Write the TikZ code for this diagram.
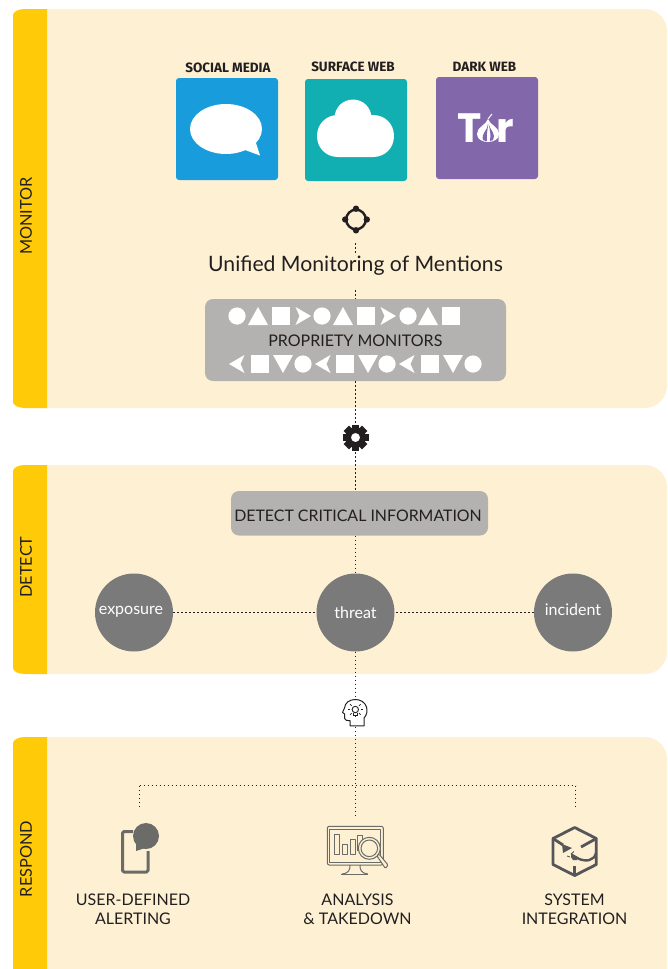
\documentclass[tikz,border=0pt]{standalone}
\usepackage{fontspec}
\setmainfont{Lato}
\newfontfamily\logofont{Poppins}
\newfontfamily\titlefont{Fira Sans}
\definecolor{cream}{HTML}{FEF1D3}
\definecolor{band}{HTML}{FFCB08}
\definecolor{ink}{HTML}{231F20}
\definecolor{boxgray}{HTML}{B3B2B0}
\definecolor{discgray}{HTML}{7A7A7A}
\definecolor{icongray}{HTML}{6B6B68}
\definecolor{cubegray}{HTML}{55555A}
\definecolor{tblue}{HTML}{189CDB}
\definecolor{tteal}{HTML}{11AFB1}
\definecolor{tpurple}{HTML}{8367AB}
\tikzset{
  x=1pt,y=-1pt,
  link/.style={draw=ink,line width=1.5pt,dash pattern=on 1.6pt off 2.4pt},
  sidelabel/.style={rotate=90,text=ink,font=\fontsize{16.3}{18}\selectfont,inner sep=0pt},
  tile/.style={rounded corners=3pt},
  tiletitle/.style={text=ink,font=\titlefont\fontsize{13.5}{14}\selectfont\bfseries,inner sep=0pt},
  graybox/.style={fill=boxgray,rounded corners=8pt},
  disc/.style={circle,fill=discgray,minimum size=78pt,inner sep=0pt},
  disctext/.style={text=white,inner sep=0pt,font=\fontsize{16}{18}\selectfont},
  caption/.style={align=center,text=ink,font=\fontsize{16}{19}\selectfont,inner sep=0pt},
  iconspot/.style={circle,minimum size=#1,inner sep=0pt},
  glyphfill/.style={fill=white,draw=none},
}
\begin{document}
\begin{tikzpicture}
\useasboundingbox (0,0) rectangle (667,969);
\fill[white] (0,0) rectangle (667,969);

% Panels
\fill[cream] (40,9) -- (645,9) .. controls (657,9) and (667,19) .. (667,31) -- (667,386) .. controls (667,398) and (657,408) .. (645,408) -- (40,408) -- cycle;
\fill[band] (47,9) -- (25,9) .. controls (18,9) and (13,12) .. (13,15) -- (13,402) .. controls (13,405) and (18,408) .. (25,408) -- (47,408) -- cycle;

\fill[cream] (40,465) -- (645,465) .. controls (657,465) and (667,475) .. (667,487) -- (667,652) .. controls (667,664) and (657,674) .. (645,674) -- (40,674) -- cycle;
\fill[band] (47,465) -- (25,465) .. controls (18,465) and (13,468) .. (13,471) -- (13,668) .. controls (13,671) and (18,674) .. (25,674) -- (47,674) -- cycle;

\fill[cream] (40,737) -- (645,737) .. controls (657,737) and (667,747) .. (667,759) -- (667,969) -- (40,969) -- cycle;
\fill[band] (47,737) -- (25,737) .. controls (18,737) and (13,740) .. (13,743) -- (13,969) -- (47,969) -- cycle;

\node[sidelabel] (lmon) at (26,216) {MONITOR};
\node[sidelabel] (ldet) at (26,567) {DETECT};
\node[sidelabel] (lres) at (26,859) {RESPOND};

% Source tiles
\fill[tile,tblue] (176,78) rectangle (278,180);
\fill[tile,tteal] (305,79) rectangle (407,181);
\fill[tile,tpurple] (436,77) rectangle (538,179);
\node[tiletitle] (t1) at (228,68) {SOCIAL MEDIA};
\node[tiletitle] (t2) at (353,67) {SURFACE WEB};
\node[tiletitle] (t3) at (484.5,66.5) {DARK WEB};

% Speech bubble
\fill[white] (226,129) ellipse[x radius=36,y radius=25];
\fill[white] (245,150) -- (260,155.5) -- (255,140) -- cycle;
% Cloud
\fill[white] (338,157) .. controls (326,157) and (317,148) .. (317,136) .. controls (317,124) and (326,115) .. (338,115) -- (373,115) .. controls (385,115) and (394,124) .. (394,136) .. controls (394,148) and (385,157) .. (373,157) -- cycle;
\fill[white] (353,118) circle[radius=18.5];
% Tor logo
\node[text=white,font=\logofont\fontsize{41}{41}\selectfont\bfseries,inner sep=0pt,anchor=base] (torT) at (470,142) {T};
\node[text=white,font=\logofont\fontsize{41}{41}\selectfont\bfseries,inner sep=0pt,anchor=base] (torR) at (505,142) {r};
\fill[white] (488,119) .. controls (490,125) and (499,127) .. (499,134) .. controls (499,139) and (494,142) .. (488,142) .. controls (482,142) and (477,139) .. (477,134) .. controls (477,127) and (486,125) .. (488,119) -- cycle;
\fill[tpurple] (488,124) .. controls (488,130) and (481,133) .. (483,140) .. controls (485,141) and (486,141) .. (487,141) .. controls (486,134) and (488,130) .. (488,124) -- cycle;
\fill[tpurple] (488.5,124) .. controls (490,130) and (496,133) .. (493,140) .. controls (492,141) and (491,141) .. (490,141) .. controls (491,134) and (490,130) .. (488.5,124) -- cycle;
\draw[white,line width=1pt] (488,119) -- (492,114);

% Target icon
\node[iconspot=28pt] (target) at (356,219.5) {};
\draw[ink,line width=2.4pt] (356,219.5) circle[radius=9.8];
\foreach \dx/\dy in {0/-10.8,0/10.8,-10.8/0,10.8/0}{
  \fill[ink] (356+\dx,219.5+\dy) circle[radius=3.2];
}

% Headline
\node[text=ink,font=\fontsize{21.2}{24}\selectfont,inner sep=0pt] (headline) at (355.5,265.5) {Unified Monitoring of Mentions};
\coordinate (hlTop) at (355.5,255);
\coordinate (hlBot) at (355.5,290);
\coordinate (tgtBot) at (355.5,243);

% Proprietary monitors box
\fill[graybox] (205,299) rectangle (506,381);
\node (monbox) [minimum width=301pt,minimum height=82pt,inner sep=0pt] at (355.5,340) {};
\node[text=ink,font=\fontsize{16}{19}\selectfont,inner sep=0pt] (monlabel) at (355.3,341) {PROPRIETY MONITORS};
% row 1
\foreach \x in {237,322,408}{\fill[glyphfill] (\x,316) circle[radius=8.6];}
\foreach \x in {258,343,428}{\fill[glyphfill] (\x-10,325) -- (\x,307) -- (\x+10,325) -- cycle;}
\foreach \x in {281,366,451}{\fill[glyphfill] (\x-9,307) rectangle (\x+9,325);}
\foreach \x in {303,388}{\fill[glyphfill] (\x-7.5,307) -- (\x+8,316) -- (\x-7.5,325) -- (\x-3.5,316) -- cycle;}
% row 2
\foreach \x in {237,323,407}{\fill[glyphfill] (\x+7.5,355) -- (\x-8,364) -- (\x+7.5,373) -- (\x+3.5,364) -- cycle;}
\foreach \x in {260,345,430}{\fill[glyphfill] (\x-9,355) rectangle (\x+9,373);}
\foreach \x in {283,368,453}{\fill[glyphfill] (\x-10,355) -- (\x,373) -- (\x+10,355) -- cycle;}
\foreach \x in {303,387,473}{\fill[glyphfill] (\x,364) circle[radius=8.6];}

% Gear
\node[iconspot=29pt] (gear) at (355.5,437.5) {};
\foreach \a in {0,45,...,315}{
  \fill[ink,rotate around={\a:(355.5,437.5)}] (351.7,424.5) rectangle (359.3,432);
}
\fill[ink,even odd rule] (355.5,437.5) circle[radius=10.4] (355.5,437.5) circle[radius=4.6];

% Detect
\fill[graybox] (231,491) rectangle (488,535.5);
\node[text=ink,font=\fontsize{15.9}{18}\selectfont,inner sep=0pt] (detbox) at (358,516) {DETECT CRITICAL INFORMATION};
\coordinate (detTop) at (355.5,491);
\coordinate (detBot) at (355.5,535.5);
\node[disc] (exposure) at (134,612.5) {};
\node[disc] (threat) at (355.5,612.5) {};
\node[disc] (incident) at (573,612.5) {};
\node[disctext] (texp) at (131,611.5) {exposure};
\node[disctext] (tthr) at (355.5,612.5) {threat};
\node[disctext] (tinc) at (573,610) {incident};

% Head icon
\node[iconspot=28pt] (head) at (355.5,712.5) {};
\draw[ink,line width=1pt,line join=round] (364,725.8) -- (364,718) .. controls (367,715) and (367.5,711) .. (366.5,707) .. controls (365,702) and (360,699.3) .. (355,699.5) .. controls (349,699.7) and (345,703) .. (344.5,708) -- (342.5,712.5) -- (344.7,714) -- (344.7,718.5) .. controls (345,720.5) and (347,720.7) .. (350,720.7) -- (350,725.8) -- cycle;
\draw[ink,line width=.9pt] (355.3,709.5) circle[radius=3.2];
\draw[ink,line width=.9pt] (353.7,713) -- (353.7,715.5) -- (357,715.5) -- (357,713);
\foreach \a in {0,45,90,135,180,225,315}{
  \draw[ink,line width=.7pt] (355.3,709.5) ++(\a:5.2) -- ++(\a:2.3);
}

% Respond: connector anchors
\coordinate (busL) at (139.5,785.5);
\coordinate (busR) at (575.5,785.5);
\coordinate (alertTop) at (139.5,809);
\coordinate (analysisTop) at (355.5,815);
\coordinate (systemTop) at (575.5,806);

% Tablet icon
\draw[icongray,line width=3pt,line join=round,rounded corners=1.5pt] (133,831.5) -- (122.5,831.5) -- (122.5,872) -- (148,872) -- (148,851);
\fill[icongray] (146,836) circle[radius=13];
\fill[icongray] (136,844) -- (136,851) -- (145,848) -- cycle;

% Monitor icon
\begin{scope}[icongray,line width=1pt,line join=round]
\draw[rounded corners=2pt] (327.3,826.3) rectangle (383.3,865);
\draw (329.7,829) -- (380.5,829) -- (380.5,862.5) -- (329.7,862.5) -- cycle;
\draw (334.3,834) rectangle (339.3,854.7);
\draw (342.3,844) rectangle (347.3,854.7);
\draw (350,839.3) rectangle (355,854.7);
\draw (357.7,835.3) rectangle (362.7,850);
\draw[fill=cream] (369.3,848.3) circle[radius=11];
\draw (369.3,848.3) circle[radius=8.3];
\draw[fill=cream,rounded corners=1pt] (377,856) -- (379,854) -- (388,865) -- (385.5,868.5) -- cycle;
\draw (342,874) .. controls (349,873) and (350,870) .. (350,865) (360,865) .. controls (360,870) and (361,873) .. (368,874);
\draw[line width=1.4pt] (341,874.3) -- (368,874.3);
\end{scope}

% Cube icon
\begin{scope}[cubegray,line width=2.8pt,line join=round]
\draw (574.7,827.5) -- (596.3,838.5) -- (596.3,864.5) -- (574.7,875.5) -- (553,864.5) -- (553,838.5) -- cycle;
\draw (574.7,875.5) -- (574.7,866);
\draw (553,838.5) -- (563,845);
\draw (596.3,838.5) -- (581,847);
\draw[line width=2.4pt] (596,853) .. controls (594,861) and (586,862) .. (578,858.5);
\end{scope}
\fill[cubegray] (562,844) -- (572,848) -- (563,853) -- cycle;
\fill[cubegray] (571,853) -- (579,857.5) -- (577,860) -- (573,860) -- (571,857) -- cycle;
\draw[cubegray,line width=.9pt] (571,854) -- (574,851.5) (570,857) -- (567,856);

% Captions
\node[caption] (cap1) at (133,909.5) {USER-DEFINED\\ALERTING};
\node[caption] (cap2) at (357.5,909.5) {ANALYSIS\\\& TAKEDOWN};
\node[caption] (cap3) at (574.5,909.5) {SYSTEM\\INTEGRATION};

% Connectors
\draw[link] (tgtBot) -- (hlTop);
\draw[link] (hlBot) -- (monbox.north -| hlBot);
\draw[link] (monbox.south -| hlBot) -- (gear.north);
\draw[link] (gear.south) -- (detTop);
\draw[link] (detBot) -- (threat.north);
\draw[link] (exposure.east) -- (threat.west);
\draw[link] (incident.west) -- (threat.east);
\draw[link] (threat.south) -- (head.north);
\draw[link] (head.south) -- (analysisTop);
\draw[link] (busL) -- (busR);
\draw[link] (busL) -- (alertTop);
\draw[link] (busR) -- (systemTop);
\end{tikzpicture}
\end{document}
